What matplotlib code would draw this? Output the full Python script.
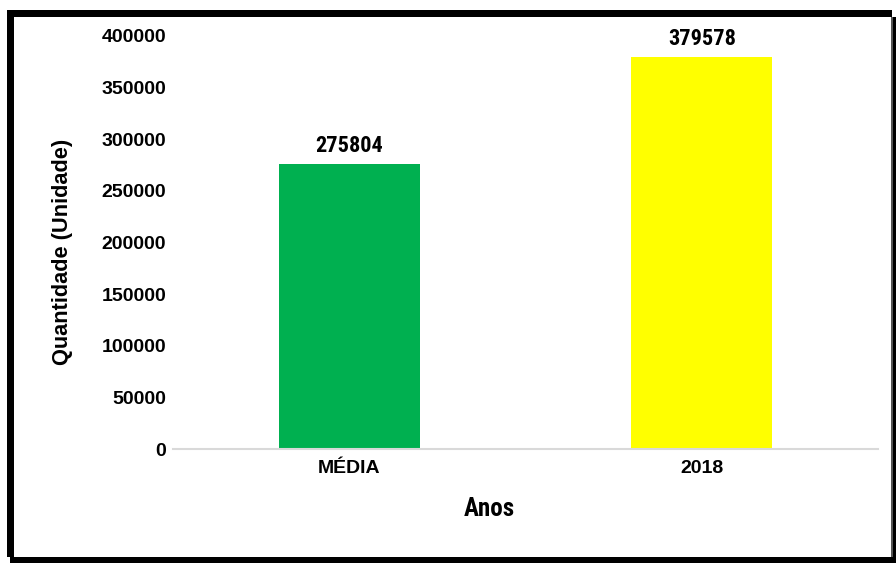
import matplotlib
matplotlib.use("Agg")
import matplotlib.pyplot as plt
from matplotlib.patches import Rectangle

categories = ["MÉDIA", "2018"]
values = [275804, 379578]
colors = ["#00B050", "#FFFF00"]
yticks = [0, 50000, 100000, 150000, 200000, 250000, 300000, 350000, 400000]

REG = ["Liberation Sans", "DejaVu Sans"]
NARROW = ["Roboto Condensed", "Liberation Sans Narrow", "Liberation Sans", "DejaVu Sans"]
plt.rcParams["font.family"] = REG
plt.rcParams["font.weight"] = "bold"

W, H = 896, 563
fig = plt.figure(figsize=(W / 100, H / 100), dpi=100)
ax = fig.add_axes([173 / W, 1 - 449 / H, (878 - 173) / W, (449 - 36) / H])

x = list(range(len(categories)))
ax.bar(x, values, width=0.4, color=colors, zorder=2)
ax.set_xlim(-0.5, len(categories) - 0.5)
ax.set_ylim(0, 400000)
ax.set_yticks(yticks)
ax.set_yticklabels([str(v) for v in yticks], fontsize=14, fontweight="bold", family=REG)
ax.set_xticks(x)
ax.set_xticklabels(categories, fontsize=14, fontweight="bold", family=REG)
ax.tick_params(axis="both", length=0)
ax.tick_params(axis="y", pad=5)
ax.tick_params(axis="x", pad=8)
for s in ["top", "right", "left"]:
    ax.spines[s].set_visible(False)
ax.spines["bottom"].set_color("#d9d9d9")
ax.spines["bottom"].set_linewidth(1.5)

for xi, v in zip(x, values):
    ax.annotate(str(v), (xi, v), xytext=(0, 5), textcoords="offset points",
                ha="center", va="bottom", fontsize=16, fontweight="bold", family=NARROW)

ax.set_xlabel("Anos", fontsize=18, fontweight="bold", family=NARROW, va="center")
ax.xaxis.set_label_coords((489 - 173) / 705, (449 - 508.5) / 413)
ax.set_ylabel("Quantidade (Unidade)", fontsize=15.7, fontweight="bold", family=REG, va="center")
ax.yaxis.set_label_coords((62 - 173) / 705, (449 - 251.5) / 413)

def px_rect(x0, y0, x1, y1, color):
    fig.patches.append(Rectangle((x0 / W, 1 - y1 / H), (x1 - x0) / W, (y1 - y0) / H,
                                 transform=fig.transFigure, facecolor=color,
                                 edgecolor="none", zorder=10))

px_rect(7, 10, 892, 17, "black")
px_rect(7, 10, 14, 557, "black")
px_rect(10, 557, 896, 563, "black")
px_rect(892, 17, 896, 563, "black")
px_rect(891, 17, 893, 557, "#555555")

fig.savefig("out.png", dpi=100)
